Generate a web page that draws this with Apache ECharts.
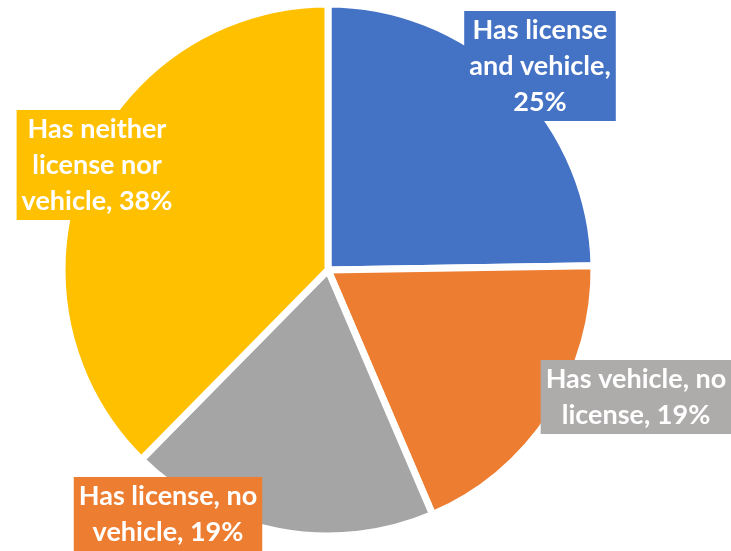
<!DOCTYPE html>
<html>
<head>
<meta charset="utf-8">
<script src="https://cdn.jsdelivr.net/npm/echarts@6/dist/echarts.min.js"></script>
<style>
  html, body { margin: 0; padding: 0; background: #fff; }
  #chart { width: 731px; height: 551px; }
</style>
</head>
<body>
<div id="chart"></div>
<script>
const categories = ['Has license and vehicle', 'Has vehicle, no license', 'Has license, no vehicle', 'Has neither license nor vehicle'];
const values = [25, 19, 19, 38];
const labelLines = [
    ['Has license', 'and vehicle,', '25%'],
    ['Has vehicle, no', 'license, 19%'],
    ['Has license, no', 'vehicle, 19%'],
    ['Has neither', 'license nor', 'vehicle, 38%'],
];
const sliceColors = ['#4472C4', '#ED7D31', '#A5A5A5', '#FFC000'];
const labelFills = ['#4472C4', '#AEABAB', '#ED7D31', '#FFC000'];

// where the label boxes sit (centre of each box)
const labelSpots = [
    [540, 66],
    [636, 397],
    [168, 514],
    [97, 165],
];

const chart = echarts.init(document.getElementById('chart'));

chart.setOption({
    animation: false,
    series: [{
        type: 'pie',
        center: [328, 270],
        radius: ['0%', 266],
        startAngle: 90,
        clockwise: true,
        itemStyle: { borderColor: '#fff', borderWidth: 7 },
        label: {
            show: true,
            position: 'inside',
            color: '#fff',
            fontFamily: 'Lato',
            fontWeight: 'bold',
            fontSize: 27,
            lineHeight: 36,
            padding: [1, 5, 1, 5],
        },
        labelLine: { show: false },
        emphasis: { disabled: true },
        labelLayout: (p) => ({
            x: labelSpots[p.dataIndex][0],
            y: labelSpots[p.dataIndex][1],
            align: 'center',
            verticalAlign: 'middle',
        }),
        data: values.map((v, i) => ({
            name: categories[i],
            value: v,
            itemStyle: { color: sliceColors[i] },
            label: {
                formatter: labelLines[i].join('\n'),
                backgroundColor: labelFills[i],
            },
        })),
    }],
});
</script>
</body>
</html>
